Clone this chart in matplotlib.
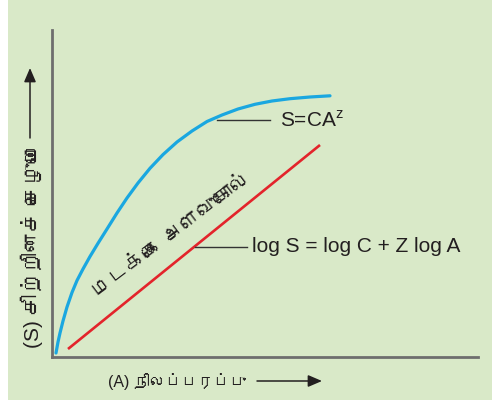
import matplotlib
matplotlib.use("Agg")
import matplotlib.pyplot as plt
from matplotlib import font_manager
from matplotlib.ft2font import FT2Font
from matplotlib.patches import Rectangle, FancyArrowPatch

# ---- data (arbitrary units) ----
curve_area = [4, 6, 8, 11, 15, 20, 25, 31, 38, 46, 55, 65, 75, 86, 98, 111, 125,
              140, 155, 170, 186, 203, 220, 238, 258, 278]
curve_species = [4, 15, 24, 36, 50, 64.5, 76.5, 88, 100.5, 113.7, 128, 144, 159,
                 174, 188.7, 202.4, 215, 226, 235.5, 242, 248, 252.7, 256, 258.3,
                 260, 261.2]
line_area = [16, 268]
line_species = [8, 212]

label_power = r"S=CA$^{\mathrm{z}}$"
label_log = "log S = log C + Z log A"
label_loglog = "மடக்கை அளவுகோல்"
xlabel_text = "(A) நிலப்பரப்பு"
ylabel_text = "(S) சிற்றினச் செழுமை"


def find_tamil():
    seen = set()
    for f in font_manager.fontManager.ttflist:
        if f.fname in seen:
            continue
        seen.add(f.fname)
        try:
            cm = FT2Font(f.fname).get_charmap()
        except Exception:
            continue
        if 0x0B9A in cm and 0x0BC8 in cm:
            return f.name
    return None


tamil = find_tamil()
fams = ["Liberation Sans"] + ([tamil] if tamil else []) + ["DejaVu Sans"]
plt.rcParams["font.family"] = fams
plt.rcParams["mathtext.fontset"] = "custom"
plt.rcParams["mathtext.rm"] = "Liberation Sans"

W, H = 492, 405
fig = plt.figure(figsize=(W / 100, H / 100), dpi=100)
fig.patch.set_facecolor("white")
bg = Rectangle((8 / W, 5 / H), 1 - 8 / W, 1 - 5 / H, transform=fig.transFigure,
               facecolor="#d9e9c8", edgecolor="none", zorder=-10)
fig.add_artist(bg)

ax = fig.add_axes([52 / W, (H - 357) / H, 426 / W, 327 / H], zorder=1)
ax.set_facecolor("none")
ax.set_xlim(0, 426)
ax.set_ylim(0, 327)
for s in ["top", "right"]:
    ax.spines[s].set_visible(False)
for s in ["left", "bottom"]:
    ax.spines[s].set_color("#6e6e6e")
    ax.spines[s].set_linewidth(2.0)
ax.set_xticks([])
ax.set_yticks([])

ax.plot(curve_area, curve_species, color="#1aa7e0", lw=2.3, solid_capstyle="round",
        solid_joinstyle="round", clip_on=False)
ax.plot(line_area, line_species, color="#e3242b", lw=1.9, solid_capstyle="butt")

txtc = "#231f20"
# leader lines + labels
ax.plot([165, 218], [237, 237], color="#333333", lw=1.0)
ax.text(228, 237, label_power, fontsize=15, color=txtc, va="center", ha="left")
ax.plot([143, 195], [110, 110], color="#333333", lw=1.0)
ax.text(200, 110, label_log, fontsize=15, color=txtc, va="center", ha="left")

ax.text(120, 122, label_loglog, fontsize=15, color=txtc, rotation=37,
        rotation_mode="anchor", ha="center", va="center")


# axis labels with arrows (figure pixel coords)
def fx(px):
    return px / W


def fy(py):
    return 1 - py / H


fig.text(fx(108), fy(381), xlabel_text, fontsize=11.5, color=txtc, ha="left", va="center")
fig.text(fx(32), fy(245), ylabel_text, fontsize=15, color=txtc, ha="center",
         va="center", rotation=90)

arrow = dict(arrowstyle="-|>,head_length=0.7,head_width=0.3", color=txtc, lw=1.1,
             mutation_scale=12, shrinkA=0, shrinkB=0)
fig.add_artist(FancyArrowPatch((fx(257), fy(381)), (fx(322), fy(381)),
               transform=fig.transFigure, **arrow))
fig.add_artist(FancyArrowPatch((fx(30), fy(138)), (fx(30), fy(68)),
               transform=fig.transFigure, **arrow))

fig.savefig("out.png", dpi=100)
